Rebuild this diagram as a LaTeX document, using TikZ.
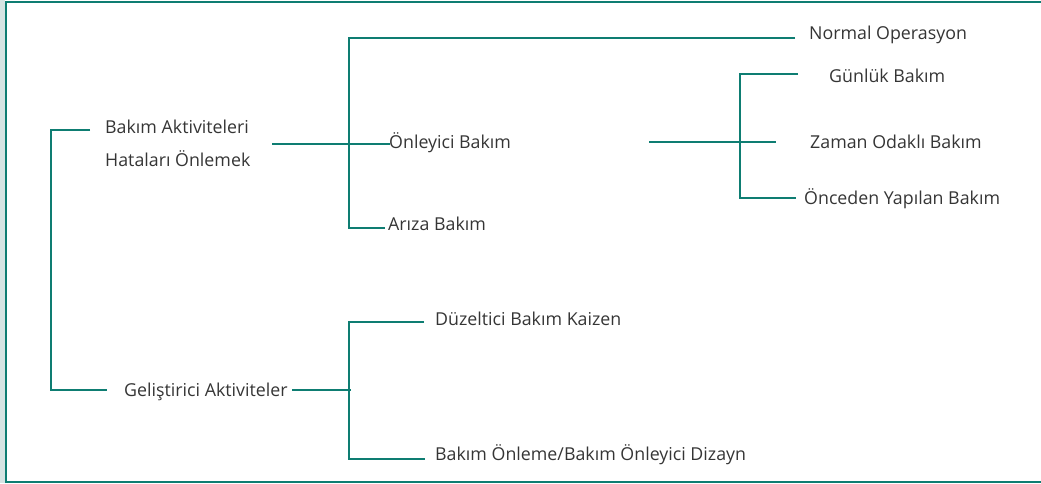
\documentclass[tikz,border=0pt]{standalone}
\usepackage{fontspec}
\setmainfont{Open Sans}
\usetikzlibrary{calc}

\definecolor{tealline}{HTML}{0E7D72}
\definecolor{textgray}{HTML}{353535}
\definecolor{sidegray}{HTML}{D6E4E3}

\tikzset{
	lbl/.style={anchor=west, inner sep=0pt, text height=12.7pt, text depth=0pt,
		text=textgray, font=\fontsize{17.8}{21}\selectfont},
	link/.style={draw=tealline, line width=2pt}
}

\begin{document}
\begin{tikzpicture}[x=1pt, y=-1pt]

\useasboundingbox (0,0) rectangle (1041,483);

% frame
\fill[sidegray] (0,0) rectangle (5,483);
\draw[tealline, line width=2pt] (6,483) -- (6,2) -- (1041,2);
\draw[tealline, line width=2pt] (6,482) -- (1041,482);

% labels
\node[lbl] (hedef1) at (105,127) {Bakım Aktiviteleri};
\node[lbl] (hedef2) at (105,160.5) {Hataları Önlemek};
\node[lbl] (gelistir) at (124,390) {Geliştirici Aktiviteler};

\node[lbl] (normal) at (809,33) {Normal Operasyon};
\node[lbl] (onleyici) at (389,142) {Önleyici Bakım};
\node[lbl] (ariza) at (388,224) {Arıza Bakım};

\node[lbl] (gunluk) at (829,76.5) {Günlük Bakım};
\node[lbl] (zaman) at (810,142) {Zaman Odaklı Bakım};
\node[lbl] (onceden) at (804,198.5) {Önceden Yapılan Bakım};

\node[lbl] (duzelt) at (435,319) {Düzeltici Bakım Kaizen};
\node[lbl] (dizayn) at (435,454) {Bakım Önleme/Bakım Önleyici Dizayn};

% spines
\coordinate (k0) at (51,130);
\coordinate (k1) at (349,38);
\coordinate (k2) at (740,74);
\coordinate (k3) at (349,322);

% left bracket
\draw[link] ($(hedef1.west)+(-15,3)$) -- (k0) |- ($(gelistir.west)+(-17,0)$);

% upper bracket
\draw[link] ($(normal.west)+(-14,5)$) -- (k1) |- ($(ariza.west)+(-3,4)$);
\draw[link] ($(onleyici.west)+(-117,2)$) -- ($(onleyici.west)+(1,2)$);

% right bracket
\draw[link] ($(gunluk.west)+(-31,-2.5)$) -- (k2) |- ($(onceden.west)+(-8,-0.5)$);
\draw[link] ($(zaman.west)+(-161,0)$) -- ($(zaman.west)+(-34,0)$);

% lower bracket
\draw[link] ($(duzelt.west)+(-11,3)$) -- (k3) |- ($(dizayn.west)+(-10,5)$);
\draw[link] ($(gelistir.west)+(168,0)$) -- ($(k3 |- gelistir.west)+(2,0)$);

\end{tikzpicture}
\end{document}
